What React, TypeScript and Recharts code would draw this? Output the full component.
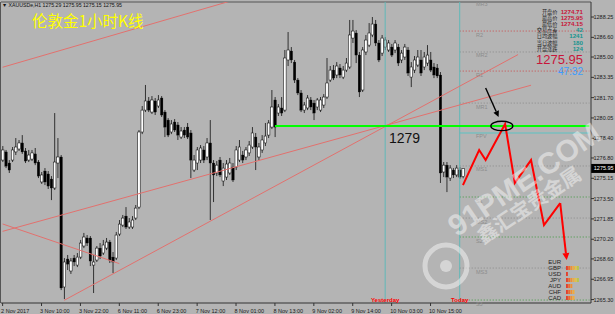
import React from 'react';
import { ComposedChart, Bar, Line, XAxis, YAxis, ReferenceLine, ReferenceDot } from 'recharts';

const opens = [
  1276.63, 1277.29, 1276.39, 1276.63, 1277.29, 1277.53, 1278.02, 1277.37, 1276.63, 1276.71,
  1277.13, 1276.47, 1274.85, 1275.74, 1275.50, 1275.09, 1274.36, 1276.39, 1276.88, 1266.32,
  1268.59, 1267.62, 1268.67, 1268.10, 1268.75, 1269.65, 1270.30, 1270.30, 1268.10, 1268.51,
  1269.48, 1269.08, 1269.48, 1269.97, 1268.75, 1268.67, 1270.62, 1271.35, 1272.08, 1271.19,
  1271.19, 1271.92, 1272.81, 1278.91, 1280.69, 1281.43, 1280.53, 1281.43, 1281.02, 1281.67,
  1280.53, 1279.88, 1278.91, 1279.72, 1279.48, 1278.50, 1279.07, 1279.31, 1278.83, 1275.82,
  1276.39, 1276.63, 1277.45, 1276.88, 1278.02, 1276.39, 1275.58, 1276.63, 1274.93, 1275.25,
  1275.58, 1276.06, 1276.06, 1276.63, 1277.04, 1276.88, 1277.21, 1277.69, 1278.50, 1276.88,
  1277.45, 1278.02, 1278.66, 1279.31, 1281.51, 1280.45, 1280.86, 1280.69, 1284.76, 1285.49,
  1284.59, 1283.13, 1282.08, 1280.69, 1280.86, 1281.51, 1281.26, 1280.94, 1280.69, 1281.10,
  1281.75, 1283.13, 1283.94, 1283.54, 1284.11, 1283.37, 1283.94, 1284.19, 1286.54, 1286.95,
  1285.16, 1282.32, 1285.41, 1285.97, 1286.79, 1287.68, 1286.14, 1285.32, 1285.81, 1285.57,
  1285.81, 1285.57, 1285.81, 1284.76, 1285.00, 1285.57, 1283.37, 1283.94, 1284.35, 1284.76,
  1284.19, 1284.51, 1284.76, 1284.19, 1284.11, 1283.54, 1275.66, 1276.22, 1275.17, 1275.82,
  1275.42, 1275.82, 1275.29,
];
const highs = [
  1277.77, 1277.45, 1276.63, 1277.69, 1278.42, 1278.26, 1278.66, 1277.61, 1277.45, 1277.45,
  1277.61, 1276.63, 1275.66, 1275.98, 1275.74, 1275.33, 1280.45, 1278.42, 1277.04, 1268.67,
  1268.92, 1268.67, 1268.92, 1269.08, 1270.14, 1270.71, 1270.54, 1270.46, 1268.92, 1269.65,
  1269.89, 1270.14, 1270.30, 1270.14, 1269.16, 1270.79, 1271.76, 1272.17, 1272.81, 1271.92,
  1272.08, 1272.98, 1279.07, 1281.02, 1282.73, 1281.75, 1281.83, 1281.67, 1281.91, 1281.83,
  1280.69, 1280.04, 1279.88, 1279.96, 1279.72, 1279.31, 1279.31, 1279.64, 1279.07, 1277.04,
  1277.69, 1277.85, 1277.77, 1278.42, 1279.88, 1276.63, 1276.55, 1276.88, 1276.39, 1276.63,
  1276.80, 1276.39, 1277.77, 1278.26, 1277.37, 1277.69, 1278.18, 1279.31, 1278.83, 1278.02,
  1278.66, 1279.64, 1279.88, 1282.32, 1281.75, 1281.18, 1281.75, 1285.57, 1287.03, 1285.81,
  1284.76, 1283.29, 1282.32, 1281.34, 1281.91, 1281.75, 1281.51, 1281.67, 1281.75, 1281.99,
  1284.92, 1284.27, 1284.35, 1284.59, 1284.43, 1284.27, 1284.92, 1288.01, 1288.01, 1287.19,
  1285.41, 1285.81, 1286.79, 1287.76, 1288.25, 1288.01, 1286.38, 1286.79, 1286.62, 1286.38,
  1286.06, 1286.38, 1286.06, 1285.57, 1286.06, 1285.81, 1284.59, 1285.08, 1285.57, 1285.57,
  1285.41, 1285.97, 1285.41, 1284.51, 1284.43, 1283.78, 1276.47, 1276.47, 1276.22, 1275.98,
  1276.22, 1276.06, 1275.95,
];
const lows = [
  1276.47, 1275.98, 1275.58, 1276.47, 1277.04, 1277.37, 1277.13, 1276.39, 1276.47, 1276.55,
  1276.22, 1275.17, 1274.69, 1274.60, 1274.28, 1273.38, 1274.20, 1275.17, 1266.07, 1265.34,
  1267.70, 1267.38, 1268.02, 1267.94, 1268.59, 1269.48, 1269.65, 1268.02, 1265.83, 1268.35,
  1268.59, 1268.92, 1269.32, 1268.27, 1267.45, 1268.51, 1270.46, 1271.19, 1271.03, 1271.03,
  1271.03, 1271.76, 1272.65, 1278.74, 1280.53, 1280.53, 1280.37, 1280.29, 1280.86, 1280.13,
  1278.50, 1278.50, 1278.74, 1278.91, 1278.26, 1278.34, 1278.42, 1278.34, 1275.17, 1275.66,
  1275.82, 1276.39, 1276.39, 1276.63, 1271.76, 1273.22, 1275.33, 1275.25, 1274.52, 1275.01,
  1275.42, 1274.85, 1275.82, 1276.47, 1276.39, 1276.63, 1276.96, 1277.53, 1275.82, 1276.63,
  1277.21, 1277.77, 1278.42, 1279.15, 1278.50, 1280.21, 1280.21, 1280.53, 1284.27, 1284.51,
  1282.89, 1281.91, 1280.53, 1280.45, 1280.69, 1280.69, 1279.88, 1280.69, 1280.53, 1280.86,
  1281.59, 1282.97, 1283.13, 1283.29, 1283.29, 1283.21, 1283.78, 1284.03, 1286.14, 1284.51,
  1281.75, 1282.16, 1285.16, 1285.81, 1286.62, 1285.89, 1284.59, 1285.08, 1285.57, 1285.41,
  1285.00, 1285.32, 1284.27, 1284.51, 1284.76, 1283.46, 1282.56, 1283.70, 1284.19, 1283.46,
  1283.94, 1284.27, 1283.78, 1283.29, 1283.29, 1274.77, 1275.25, 1274.03, 1274.93, 1275.17,
  1275.25, 1275.09, 1275.15,
];
const closes = [
  1277.45, 1276.14, 1275.82, 1277.45, 1277.69, 1278.02, 1277.29, 1276.55, 1277.04, 1277.21,
  1276.39, 1275.33, 1275.42, 1274.85, 1274.52, 1274.36, 1276.47, 1276.88, 1266.24, 1268.35,
  1268.18, 1268.43, 1268.35, 1268.75, 1269.89, 1270.38, 1269.89, 1268.43, 1268.35, 1269.48,
  1268.83, 1269.73, 1269.97, 1268.51, 1268.35, 1270.54, 1271.43, 1271.92, 1271.19, 1271.60,
  1271.76, 1272.73, 1278.91, 1280.69, 1281.43, 1280.69, 1281.51, 1280.53, 1281.51, 1280.29,
  1279.31, 1278.66, 1279.56, 1279.07, 1278.66, 1278.99, 1278.66, 1278.50, 1276.63, 1276.63,
  1277.45, 1277.61, 1276.63, 1278.02, 1276.39, 1275.42, 1276.22, 1275.42, 1275.98, 1276.31,
  1276.39, 1275.01, 1277.45, 1277.69, 1276.63, 1277.45, 1277.85, 1278.83, 1277.69, 1277.69,
  1278.26, 1278.58, 1279.64, 1280.94, 1279.31, 1280.94, 1280.45, 1284.92, 1285.57, 1284.76,
  1283.13, 1282.08, 1280.69, 1281.10, 1281.67, 1280.94, 1280.45, 1281.51, 1281.51, 1281.75,
  1282.89, 1283.94, 1283.29, 1284.27, 1283.54, 1283.94, 1284.51, 1286.79, 1287.11, 1285.16,
  1282.16, 1285.57, 1286.38, 1286.95, 1287.68, 1286.14, 1284.76, 1286.54, 1286.38, 1286.14,
  1285.16, 1286.14, 1284.51, 1285.32, 1285.81, 1283.70, 1284.19, 1284.76, 1285.00, 1283.70,
  1285.00, 1285.16, 1283.94, 1283.54, 1283.46, 1275.58, 1276.22, 1275.25, 1275.98, 1275.42,
  1275.98, 1275.25, 1275.95,
];

const TOTAL_SLOTS = 182;
const Y_MIN = 1265.02;
const Y_MAX = 1289.47;

const dateTickIdx = [0, 12, 24, 36, 48, 60, 72, 84, 96, 108, 120, 132];
const dateTickLabels = [
  '2 Nov 2017', '3 Nov 10:00', '3 Nov 22:00', '6 Nov 11:00', '6 Nov 23:00', '7 Nov 12:00',
  '8 Nov 01:00', '8 Nov 13:00', '9 Nov 02:00', '9 Nov 14:00', '10 Nov 03:00', '10 Nov 15:00',
];
const priceTicks = [
  1288.25, 1286.6, 1285.0, 1283.35, 1281.7, 1280.05, 1278.4, 1276.8, 1275.15, 1273.5,
  1271.85, 1270.2, 1268.6, 1266.95, 1265.3,
];

// trend lines: start/end bar index and price
const trendStartIdx = [0, 0, 19, 0];
const trendStartPrice = [1284.17, 1270.84, 1265.24, 1271.44];
const trendEndIdx = [72, 163, 159, 36];
const trendEndPrice = [1289.68, 1282.71, 1285.2, 1268.22];

const keyLevel = 1279.4;
const keyLevelStartIdx = 84;
const yesterdayIdx = 118;
const todayIdx = 141;

const pivotNames = ['MR3', 'R2', 'MR2', 'R1', 'MR1', 'FPV', 'MS1', 'S1', 'MS2', 'S2', 'MS3', 'S3'];
const pivotPrices = [1289.6, 1287.11, 1285.41, 1283.86, 1281.26, 1278.83, 1276.15, 1273.63, 1271.92, 1270.38, 1267.86, 1265.26];

const zigIdx = [142, 147, 149, 155, 158, 163, 167, 172];
const zigPrices = [1274.6, 1277.45, 1276.63, 1279.56, 1274.77, 1276.63, 1271.35, 1273.14];
const zigTipIdx = 174;
const zigTipPrice = 1268.51;

const infoLabels = ['开盘价', '最高价', '最低价', '交易点差', '日均波幅', '当日波幅', '开盘涨跌'];
const infoValues = ['1274.71', '1275.95', '1274.15', '42', '1241', '180', '124'];
const lastPrice = 1275.95;
const countdown = '47:32';

const currencyNames = ['EUR', 'GBP', 'USD', 'JPY', 'AUD', 'CHF', 'CAD'];
const currencyStrength = [0, 6, 1, 6, 3, 4, 4];
const strengthColors = ['#e4402c', '#ec6a30', '#f08e34', '#f0ac3c', '#e2c444', '#b8c44c'];

const LATIN = "'Liberation Sans', Arial, sans-serif";
const CJK = "'Noto Sans CJK SC', sans-serif";

const data = Array.from({ length: TOTAL_SLOTS }, (_, i) => {
  const row: any = { idx: i };
  if (i < opens.length) {
    row.open = opens[i];
    row.high = highs[i];
    row.low = lows[i];
    row.close = closes[i];
    row.range = [lows[i], highs[i]];
  }
  const z = zigIdx.indexOf(i);
  if (z >= 0) row.zig = zigPrices[z];
  return row;
});

const Candle = (props: any) => {
  const { x, y, width, height, payload } = props;
  if (!payload || payload.high == null) return null;
  const { open, close, high, low } = payload;
  const top = Math.min(y, y + height);
  const h = Math.abs(height);
  const span = high - low || 1;
  const py = (p: number) => top + ((high - p) / span) * h;
  const cx = x + width / 2;
  const bull = close >= open;
  const bTop = py(Math.max(open, close));
  const bBot = py(Math.min(open, close));
  const bw = 2.5;
  return (
    <g>
      <line x1={cx} x2={cx} y1={top} y2={top + h} stroke="#1a1a1a" strokeWidth={0.85} />
      <rect
        x={cx - bw / 2}
        y={bTop}
        width={bw}
        height={Math.max(bBot - bTop, 0.8)}
        fill={bull ? '#ffffff' : '#000000'}
        stroke="#111"
        strokeWidth={bull ? 0.55 : 0.3}
      />
    </g>
  );
};

const XTick = (props: any) => {
  const { x, y, payload } = props;
  const k = dateTickIdx.indexOf(payload.value);
  if (k < 0) return null;
  return (
    <text x={x - 1.5} y={y + 5} fontSize={5.5} fill="#1a1a1a" textAnchor="start" fontFamily={LATIN}>
      {dateTickLabels[k]}
    </text>
  );
};

const YTick = (props: any) => {
  const { x, y, payload } = props;
  return (
    <text x={x - 0.5} y={y + 2} fontSize={5.5} fill="#1a1a1a" textAnchor="start" fontFamily={LATIN}>
      {Number(payload.value).toFixed(2)}
    </text>
  );
};

const arrowShape = (color: string, w: number, head: number) => (p: any) => {
  const x1 = Number(p.x1), y1 = Number(p.y1), x2 = Number(p.x2), y2 = Number(p.y2);
  const dx = x2 - x1, dy = y2 - y1;
  const L = Math.hypot(dx, dy) || 1;
  const ux = dx / L, uy = dy / L;
  const bx = x2 - ux * head, by = y2 - uy * head;
  const px = -uy * head * 0.5, py = ux * head * 0.5;
  return (
    <g>
      <line x1={x1} y1={y1} x2={bx} y2={by} stroke={color} strokeWidth={w} />
      <polygon points={`${x2},${y2} ${bx + px},${by + py} ${bx - px},${by - py}`} fill={color} />
    </g>
  );
};

const pivotColor = (name: string) => {
  if (name === 'FPV') return '#5cc4c4';
  if (name.startsWith('M')) return '#8a8a8a';
  if (name.startsWith('R')) return '#cc4a4a';
  return '#3f9a3f';
};

export default function App() {
  return (
    <div style={{ position: 'absolute', left: 0, top: 0, width: 615, height: 314, background: '#b4b4b4', overflow: 'hidden' }}>
      <ComposedChart
        width={615}
        height={314}
        data={data}
        margin={{ top: 2, right: 0, bottom: 0, left: 1 }}
        barCategoryGap="10%"
      >
        <XAxis
          dataKey="idx"
          type="category"
          height={11}
          ticks={dateTickIdx}
          interval={0}
          tick={XTick}
          tickSize={3}
          tickMargin={2}
          tickLine={{ stroke: '#333' }}
          axisLine={{ stroke: '#333' }}
        />
        <YAxis
          orientation="right"
          width={24}
          domain={[Y_MIN, Y_MAX]}
          allowDataOverflow
          ticks={priceTicks}
          interval={0}
          tick={YTick}
          tickSize={3}
          tickMargin={0}
          tickLine={{ stroke: '#333' }}
          axisLine={{ stroke: '#333' }}
        />
        <ReferenceLine y={Y_MAX} stroke="#555" strokeWidth={1} ifOverflow="visible" />

        {pivotNames.map((n, k) =>
          n === 'MR3' ? null : (
            <ReferenceLine
              key={n}
              segment={[{ x: todayIdx, y: pivotPrices[k] }, { x: TOTAL_SLOTS - 1, y: pivotPrices[k] }]}
              stroke={pivotColor(n)}
              strokeWidth={1}
              strokeDasharray={n === 'FPV' ? undefined : '1 2'}
              ifOverflow="hidden"
            />
          )
        )}

        <ReferenceLine x={yesterdayIdx} stroke="#5fb8b8" strokeWidth={1} />
        <ReferenceLine x={todayIdx} stroke="#5fb8b8" strokeWidth={1} />

        {trendStartIdx.map((s, k) => (
          <ReferenceLine
            key={'t' + k}
            segment={[{ x: s, y: trendStartPrice[k] }, { x: trendEndIdx[k], y: trendEndPrice[k] }]}
            stroke="#e2716e"
            strokeWidth={1}
            ifOverflow="hidden"
          />
        ))}

        <Bar dataKey="range" shape={Candle} isAnimationActive={false} />

        <ReferenceLine
          segment={[{ x: keyLevelStartIdx, y: keyLevel }, { x: TOTAL_SLOTS - 1, y: keyLevel }]}
          stroke="#00ff00"
          strokeWidth={2}
          ifOverflow="hidden"
        />

        <Line
          dataKey="zig"
          stroke="#ff0000"
          strokeWidth={2}
          dot={false}
          connectNulls
          isAnimationActive={false}
        />
        <ReferenceLine
          segment={[{ x: zigIdx[zigIdx.length - 1], y: zigPrices[zigPrices.length - 1] }, { x: zigTipIdx, y: zigTipPrice }]}
          stroke="#ff0000"
          shape={arrowShape('#ff0000', 2, 7)}
          ifOverflow="visible"
        />
        <ReferenceLine
          segment={[{ x: 149, y: 1282.48 }, { x: 153, y: 1280.13 }]}
          stroke="#000"
          shape={arrowShape('#000000', 1.4, 6)}
          ifOverflow="visible"
        />
        <ReferenceDot
          x={154}
          y={keyLevel}
          ifOverflow="visible"
          shape={(p: any) => (
            <ellipse cx={p.cx} cy={p.cy} rx={11} ry={4.7} fill="none" stroke="#000" strokeWidth={1.3} />
          )}
        />
        <ReferenceDot
          x={124}
          y={keyLevel}
          ifOverflow="visible"
          shape={(p: any) => (
            <text x={p.cx} y={p.cy + 17} textAnchor="middle" fontSize={14} fill="#111" fontFamily={LATIN}>
              1279
            </text>
          )}
        />

        {pivotNames.map((n, k) => (
          <ReferenceDot
            key={'pl' + n}
            x={todayIdx + 5}
            y={Math.min(pivotPrices[k], Y_MAX - 0.01)}
            ifOverflow="visible"
            shape={(p: any) => (
              <text
                x={p.cx}
                y={n === 'MR3' ? 6 : p.cy + 5.5}
                fontSize={5.5}
                fill="#8c8c8c"
                fontFamily={LATIN}
              >
                {n}
              </text>
            )}
          />
        ))}

        <ReferenceDot
          x={yesterdayIdx}
          y={Y_MIN + 0.05}
          ifOverflow="visible"
          shape={(p: any) => (
            <text x={p.cx} y={p.cy - 0.5} textAnchor="middle" fontSize={6} fontWeight="bold" fill="#ff0000" fontFamily={LATIN}>
              Yesterday
            </text>
          )}
        />
        <ReferenceDot
          x={todayIdx}
          y={Y_MIN + 0.05}
          ifOverflow="visible"
          shape={(p: any) => (
            <text x={p.cx} y={p.cy - 0.5} textAnchor="middle" fontSize={6} fontWeight="bold" fill="#ff0000" fontFamily={LATIN}>
              Today
            </text>
          )}
        />
        <ReferenceDot
          x={TOTAL_SLOTS - 1}
          y={lastPrice}
          ifOverflow="visible"
          shape={(p: any) => (
            <g>
              <rect x={p.cx + 1.8} y={p.cy - 4.5} width={30} height={9} fill="#000" />
              <text x={p.cx + 4.4} y={p.cy + 2} fontSize={5.5} fill="#fff" fontFamily={LATIN}>
                {lastPrice.toFixed(2)}
              </text>
            </g>
          )}
        />
      </ComposedChart>

      <svg
        width={615}
        height={314}
        style={{ position: 'absolute', left: 0, top: 0, pointerEvents: 'none' }}
      >
        <line x1={0.5} y1={2} x2={0.5} y2={303} stroke="#555" strokeWidth={1} />
        <text x={2} y={7} fontSize={5.2} fill="#111" fontFamily={LATIN}>
          ▼ XAUUSDe,H1  1275.29 1275.95 1275.15 1275.95
        </text>
        <text x={32} y={26.5} fontSize={15.5} fill="#ffff00" fontFamily={CJK}>
          伦敦金1小时K线
        </text>

        {infoLabels.map((l, k) => (
          <text key={'il' + k} x={557.5} y={14 + k * 6.1} fontSize={5.2} fill="#222" textAnchor="end" fontFamily={CJK}>
            {l}
          </text>
        ))}
        {infoValues.map((v, k) => (
          <text
            key={'iv' + k}
            x={583}
            y={14 + k * 6.1}
            fontSize={6.2}
            fontWeight="bold"
            fill={k < 3 ? '#c8163a' : '#14958f'}
            textAnchor="end"
            fontFamily={LATIN}
          >
            {v}
          </text>
        ))}
        <text x={583} y={64} fontSize={13} fill="#c8163a" textAnchor="end" fontFamily={LATIN}>
          {lastPrice.toFixed(2)}
        </text>
        <text x={583} y={75} fontSize={10} fill="#3d9cff" textAnchor="end" fontFamily={LATIN}>
          {countdown}
        </text>

        <g opacity={0.45}>
          <circle cx={446} cy={266} r={21} fill="none" stroke="#ffffff" strokeWidth={5} />
          <circle cx={446} cy={266} r={6} fill="#ffffff" />
          <text
            x={530}
            y={188}
            fontSize={30}
            fontWeight="bold"
            fill="#ffffff"
            textAnchor="middle"
            transform="rotate(-34 530 188)"
            fontFamily={LATIN}
          >
            91PME.COM
          </text>
          <text
            x={533}
            y={211}
            fontSize={20}
            fontWeight="bold"
            fill="#ffffff"
            textAnchor="middle"
            transform="rotate(-34 533 211)"
            fontFamily={CJK}
          >
            鑫汇宝贵金属
          </text>
        </g>

        {currencyNames.map((c, k) => (
          <g key={'c' + c}>
            <text x={561} y={264 + k * 6} fontSize={6} fill="#222" textAnchor="end" fontFamily={LATIN}>
              {c}
            </text>
            {Array.from({ length: currencyStrength[k] }, (_, b) => (
              <rect
                key={b}
                x={566 + b * 2.2}
                y={260 + k * 6}
                width={1.9}
                height={4}
                fill={strengthColors[b]}
              />
            ))}
          </g>
        ))}
      </svg>
    </div>
  );
}
